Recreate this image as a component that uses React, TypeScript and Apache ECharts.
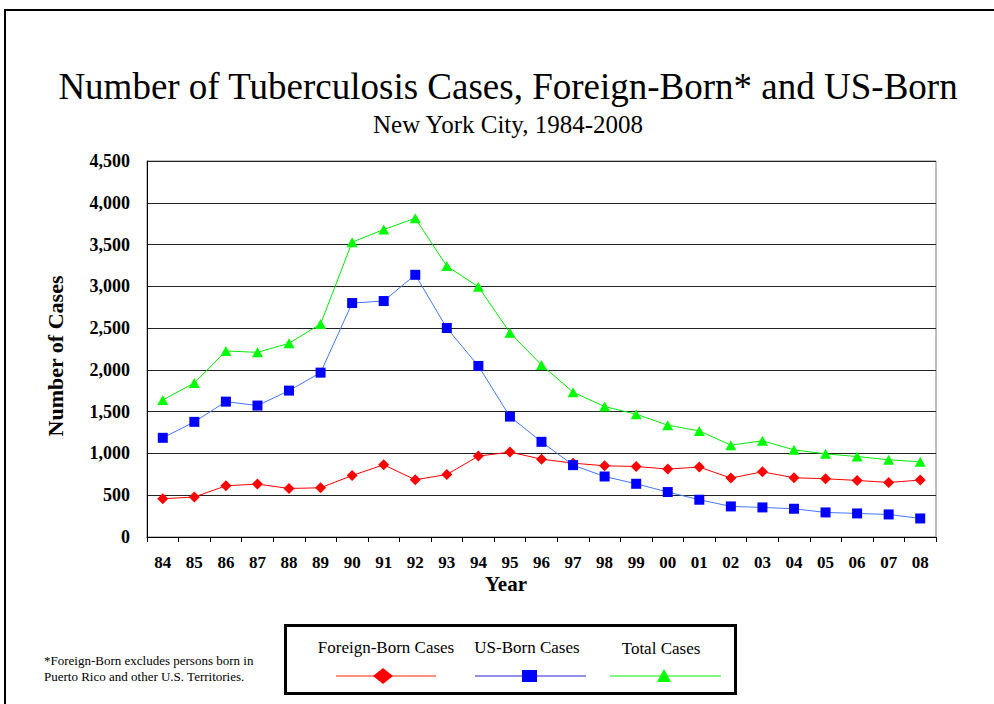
import React, { useEffect, useRef } from "react";
import * as echarts from "echarts";

const years = ["84","85","86","87","88","89","90","91","92","93","94","95","96","97","98","99","00","01","02","03","04","05","06","07","08"];
const foreignBorn = [458,478,613,633,581,589,736,864,685,748,968,1016,932,884,852,844,813,837,705,780,709,697,677,653,681];
const usBorn = [1187,1378,1620,1573,1752,1967,2800,2824,3138,2501,2047,1441,1139,860,724,637,538,446,366,354,338,294,282,270,222];
const totalCases = [1640,1844,2226,2210,2318,2549,3528,3680,3815,3242,2995,2445,2059,1733,1561,1470,1338,1270,1099,1151,1043,995,963,924,900];
const seriesNames = ["Foreign-Born Cases", "US-Born Cases", "Total Cases"];
const titleText = "Number of Tuberculosis Cases, Foreign-Born* and US-Born";
const subtitleText = "New York City, 1984-2008";
const footnoteLines = ["*Foreign-Born excludes persons born in", "Puerto Rico and other U.S. Territories."];

const SERIF = "'Liberation Serif', 'Times New Roman', serif";

export default function App() {
  const ref = useRef<HTMLDivElement>(null);
  useEffect(() => {
    if (!ref.current) return;
    const chart = echarts.init(ref.current, null, { renderer: "svg" });
    const legendY = 676;
    chart.setOption({
      animation: false,
      backgroundColor: "#fff",
      textStyle: { fontFamily: SERIF },
      grid: { left: 147, top: 161, right: 58, bottom: 167, show: true, borderColor: "#808080", borderWidth: 1 },
      xAxis: {
        type: "category",
        data: years,
        boundaryGap: true,
        axisLine: { lineStyle: { color: "#000", width: 1 } },
        axisTick: { show: true, length: 5, lineStyle: { color: "#000" } },
        axisLabel: { color: "#000", fontFamily: SERIF, fontWeight: "bold", fontSize: 17, margin: 17 },
      },
      yAxis: {
        type: "value",
        min: 0,
        max: 4500,
        interval: 500,
        axisLine: { show: true, lineStyle: { color: "#000", width: 1 } },
        axisTick: { show: false },
        splitLine: { lineStyle: { color: "#222", width: 1 } },
        axisLabel: {
          color: "#000", fontFamily: SERIF, fontWeight: "bold", fontSize: 18, margin: 17,
          formatter: (v: number) => v.toLocaleString("en-US"),
        },
      },
      series: [
        {
          name: seriesNames[0], type: "line", data: foreignBorn,
          symbol: "diamond", symbolSize: 11, showSymbol: true,
          lineStyle: { color: "#ff0000", width: 1 }, itemStyle: { color: "#ff0000" },
        },
        {
          name: seriesNames[2], type: "line", data: totalCases,
          symbol: "triangle", symbolSize: [11, 10], showSymbol: true,
          lineStyle: { color: "#00ee00", width: 1 }, itemStyle: { color: "#00ff00" },
        },
        {
          name: seriesNames[1], type: "line", data: usBorn,
          symbol: "rect", symbolSize: 10, showSymbol: true,
          lineStyle: { color: "#4477ff", width: 1 }, itemStyle: { color: "#0000ff" },
        },
      ],
      graphic: [
        { type: "rect", z: -1, shape: { x: 5, y: 10, width: 1000, height: 710 }, style: { fill: "none", stroke: "#000", lineWidth: 2 } },
        { type: "text", x: 508, y: 86, style: { text: titleText, font: `37px ${SERIF}`, fill: "#000", align: "center", verticalAlign: "middle" } },
        { type: "text", x: 508, y: 124, style: { text: subtitleText, font: `25px ${SERIF}`, fill: "#000", align: "center", verticalAlign: "middle" } },
        { type: "text", x: 506, y: 584, style: { text: "Year", font: `bold 21px ${SERIF}`, fill: "#000", align: "center", verticalAlign: "middle" } },
        { type: "text", x: 55, y: 356, rotation: Math.PI / 2, style: { text: "Number of Cases", font: `bold 22px ${SERIF}`, fill: "#000", align: "center", verticalAlign: "middle" } },
        { type: "text", x: 44, y: 660, style: { text: footnoteLines[0], font: `13px ${SERIF}`, fill: "#000", align: "left", verticalAlign: "middle" } },
        { type: "text", x: 44, y: 676, style: { text: footnoteLines[1], font: `13px ${SERIF}`, fill: "#000", align: "left", verticalAlign: "middle" } },
        { type: "rect", shape: { x: 285.5, y: 625.5, width: 450, height: 68 }, style: { fill: "#fff", stroke: "#000", lineWidth: 3 } },
        { type: "text", x: 386, y: 647, style: { text: seriesNames[0], font: `17px ${SERIF}`, fill: "#000", align: "center", verticalAlign: "middle" } },
        { type: "text", x: 527, y: 647, style: { text: seriesNames[1], font: `17px ${SERIF}`, fill: "#000", align: "center", verticalAlign: "middle" } },
        { type: "text", x: 661, y: 648, style: { text: seriesNames[2], font: `17px ${SERIF}`, fill: "#000", align: "center", verticalAlign: "middle" } },
        { type: "line", shape: { x1: 336, y1: legendY, x2: 436, y2: legendY }, style: { stroke: "#ff2200", lineWidth: 1 } },
        { type: "polygon", shape: { points: [[373, legendY], [383, legendY - 8], [393, legendY], [383, legendY + 8]] }, style: { fill: "#ff0000" } },
        { type: "line", shape: { x1: 475, y1: legendY, x2: 586, y2: legendY }, style: { stroke: "#2222cc", lineWidth: 1 } },
        { type: "rect", shape: { x: 522, y: legendY - 6, width: 15, height: 12 }, style: { fill: "#0000ff" } },
        { type: "line", shape: { x1: 610, y1: legendY, x2: 721, y2: legendY }, style: { stroke: "#00ee00", lineWidth: 1 } },
        { type: "polygon", shape: { points: [[657, legendY + 6], [664, legendY - 7], [671, legendY + 6]] }, style: { fill: "#00ff00" } },
      ],
    });
    return () => chart.dispose();
  }, []);
  return <div ref={ref} style={{ position: "fixed", left: 0, top: 0, width: 994, height: 704, background: "#fff" }} />;
}
